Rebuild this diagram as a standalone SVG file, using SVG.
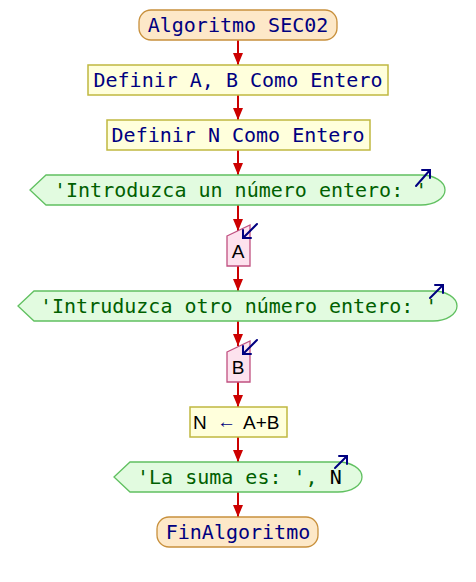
<svg xmlns="http://www.w3.org/2000/svg" width="476" height="582" viewBox="0 0 476 582">
  <defs>
    <marker id="head" markerUnits="userSpaceOnUse" markerWidth="12" markerHeight="10" viewBox="0 0 12 10" refX="12" refY="5" orient="auto">
      <path d="M0,0 L12,5 L0,10 Z" fill="#cc0000"/>
    </marker>
    <style>
      .term { fill: #fde8c8; stroke: #c8903c; stroke-width: 1.3; }
      .proc { fill: #ffffdc; stroke: #c0b840; stroke-width: 1.5; }
      .out  { fill: #e2fbe0; stroke: #60c060; stroke-width: 1.3; }
      .inp  { fill: #fde2ee; stroke: #c05080; stroke-width: 1.3; }
      .mono { font-family: "DejaVu Sans Mono", "Liberation Mono", monospace; font-size: 20px; }
      .sans { font-family: "Liberation Sans", Arial, sans-serif; font-size: 19px; }
      .navy { fill: #000080; }
      .green { fill: #006000; }
      .black { fill: #000000; }
      .flow { stroke: #cc0000; stroke-width: 2; fill: none; marker-end: url(#head); }
      .io { stroke: #000080; stroke-width: 2; fill: none; stroke-linecap: round; }
    </style>
  </defs>

  <rect width="476" height="582" fill="#ffffff"/>

  <!-- connectors -->
  <g id="connectors">
    <line class="flow" x1="238" y1="40" x2="238" y2="65"/>
    <line class="flow" x1="238" y1="95" x2="238" y2="120"/>
    <line class="flow" x1="238" y1="150" x2="238" y2="175"/>
    <line class="flow" x1="238" y1="205" x2="238" y2="231"/>
    <line class="flow" x1="238" y1="266" x2="238" y2="291"/>
    <line class="flow" x1="238" y1="321" x2="238" y2="346"/>
    <line class="flow" x1="238" y1="382" x2="238" y2="407"/>
    <line class="flow" x1="238" y1="437" x2="238" y2="462"/>
    <line class="flow" x1="238" y1="492" x2="238" y2="517"/>
  </g>

  <g id="start">
    <rect class="term" x="139" y="10" width="198" height="30" rx="12" ry="12"/>
    <text class="mono navy" x="238" y="32" text-anchor="middle">Algoritmo SEC02</text>
  </g>

  <g id="def-ab">
    <rect class="proc" x="88" y="65" width="300" height="30"/>
    <text class="mono navy" x="238" y="87" text-anchor="middle">Definir A, B Como Entero</text>
  </g>

  <g id="def-n">
    <rect class="proc" x="107" y="120" width="263" height="30"/>
    <text class="mono navy" x="238" y="142" text-anchor="middle">Definir N Como Entero</text>
  </g>

  <g id="write-1">
    <path class="out" d="M30,190 L46,175 L421,175 A24,15 0 0 1 421,205 L46,205 Z"/>
    <text class="mono green" x="54" y="197">'Introduzca un número entero: '</text>
    <path class="io" d="M416,186 L430,170 M422,170 L430,170 L430,178"/>
  </g>

  <g id="read-a">
    <path class="inp" d="M227,236 L250,225 L250,266 L227,266 Z"/>
    <text class="sans black" x="238" y="258" text-anchor="middle">A</text>
    <path class="io" d="M257,224 L243,238 M243,230 L243,238 L251,238"/>
  </g>

  <g id="write-2">
    <path class="out" d="M18,306 L34,291 L433,291 A24,15 0 0 1 433,321 L34,321 Z"/>
    <text class="mono green" x="40" y="313">'Intruduzca otro número entero: '</text>
    <path class="io" d="M430,298 L443,285 M435,285 L443,285 L443,293"/>
  </g>

  <g id="read-b">
    <path class="inp" d="M227,352 L250,341 L250,382 L227,382 Z"/>
    <text class="sans black" x="238" y="374" text-anchor="middle">B</text>
    <path class="io" d="M257,340 L243,354 M243,346 L243,354 L251,354"/>
  </g>

  <g id="assign">
    <rect class="proc" x="190" y="407" width="97" height="30"/>
    <text class="sans black" x="193" y="429">N</text>
    <text class="sans navy" x="226.5" y="428" font-size="16" text-anchor="middle">←</text>
    <text class="sans black" x="243" y="429">A+B</text>
  </g>

  <g id="write-3">
    <path class="out" d="M114,477 L130,462 L338,462 A24,15 0 0 1 338,492 L130,492 Z"/>
    <text class="mono" x="137" y="484"><tspan class="green">'La suma es: ', </tspan><tspan class="black">N</tspan></text>
    <path class="io" d="M335,468 L347,456 M339,456 L347,456 L347,464"/>
  </g>

  <g id="end">
    <rect class="term" x="157" y="517" width="161" height="30" rx="12" ry="12"/>
    <text class="mono navy" x="238" y="539" text-anchor="middle">FinAlgoritmo</text>
  </g>
</svg>
